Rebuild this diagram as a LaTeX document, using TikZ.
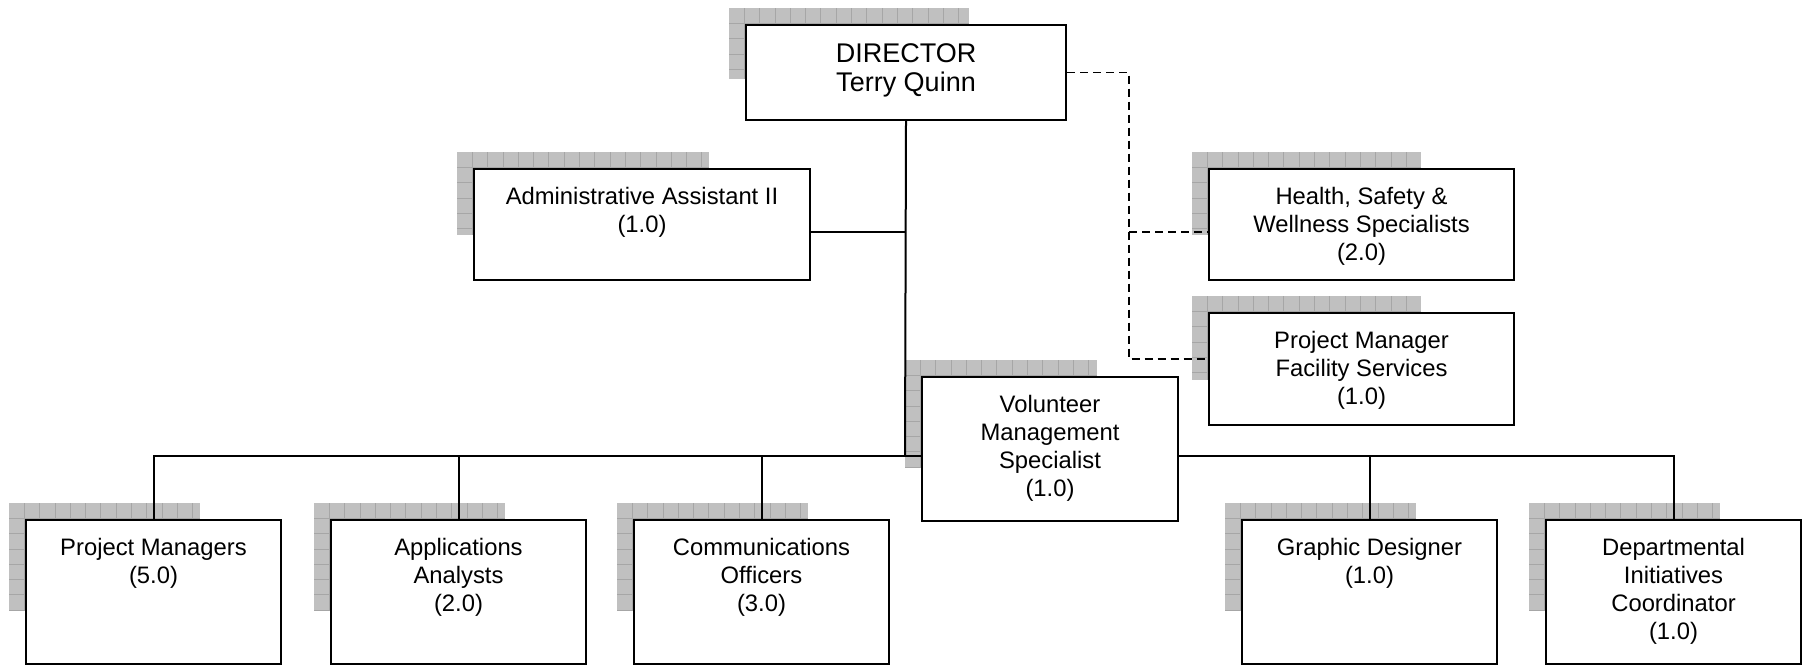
\documentclass[tikz,border=0pt]{standalone}
\usepackage{fontspec}
\setmainfont{Liberation Sans}

% drawing layers: grid shadows at the back, reporting lines above them, boxes on top
\pgfdeclarelayer{shadow}
\pgfdeclarelayer{links}
\pgfsetlayers{shadow,links,main}

\definecolor{shadowfill}{RGB}{192,192,192}
\definecolor{gridrule}{RGB}{166,166,166}

% grey tiled shadow: top-left corner (#1,#2), size #3 x #4
\newcommand\gridshadow[4]{%
  \fill[shadowfill] ({#1},{#2}) rectangle ++({#3},{#4});
  \begin{scope}
    \clip ({#1},{#2}) rectangle ++({#3},{#4});
    \foreach \k in {1,...,17}{
      \draw[gridrule, line width=0.8pt] ({#1+\k*15.3},{#2}) -- ++(0,{#4});
    }
    \foreach \k in {1,...,8}{
      \draw[gridrule, line width=0.8pt] ({#1},{#2+\k*15.3}) -- ++({#3},0);
    }
  \end{scope}}

% org-chart unit: name, left, top, width, height, text [, text options]
\newcommand\orgunit[7][]{%
  \node[unitbox, minimum width=#5pt, minimum height=#6pt,
        label={[unittext,#1]north:{#7}}] (#2) at (#3,#4) {};
  \begin{pgfonlayer}{shadow}
    \gridshadow{#3-16}{#4-16}{0.75*#5}{0.75*#6}
  \end{pgfonlayer}}

\begin{document}
\begin{tikzpicture}[x=1pt,y=-1pt,
  unitbox/.style={draw, line width=2pt, fill=white, inner sep=0pt, anchor=north west},
  unittext/.style={anchor=north, yshift=-19pt, align=center, inner sep=0pt,
                   font=\fontsize{23.8}{28}\selectfont},
  solidlink/.style={line width=2pt},
  reportlink/.style={line width=1.6pt, dash pattern=on 8pt off 5pt}]
\useasboundingbox (0,0) rectangle (1803,664);

% units
\orgunit[font=\fontsize{27}{29}\selectfont]{dir}{745}{24}{320}{95}{DIRECTOR\\Terry Quinn}
\orgunit{admin}{473}{168}{336}{111}{Administrative Assistant II\\(1.0)}
\orgunit{hs}{1208}{168}{305}{111}{Health, Safety \&\\Wellness Specialists\\(2.0)}
\orgunit{pmf}{1208}{312}{305}{112}{Project Manager\\Facility Services\\(1.0)}
\orgunit{vms}{921}{376}{256}{144}{Volunteer\\Management\\Specialist\\(1.0)}
\orgunit{pm}{25}{519}{255}{144}{Project Managers\\(5.0)}
\orgunit{aa}{330}{519}{255}{144}{Applications\\Analysts\\(2.0)}
\orgunit{co}{633}{519}{255}{144}{Communications\\Officers\\(3.0)}
\orgunit{gd}{1241}{519}{255}{144}{Graphic Designer\\(1.0)}
\orgunit{dic}{1545}{519}{255}{144}{Departmental\\Initiatives\\Coordinator\\(1.0)}

% junction points of the connectors
\coordinate (bus) at (905,456);
\coordinate (adminjoin) at (905,232);
\coordinate (hsjoin) at (1129,232);
\coordinate (fsjoin) at (1129,359);

\begin{pgfonlayer}{links}
  % direct reports
  \draw[solidlink] (dir.south) -- (bus);
  \draw[solidlink] (admin.east |- adminjoin) -- (adminjoin);
  \draw[solidlink] (pm.north) |- (bus) -| (dic.north);
  \draw[solidlink] (aa.north) -- (aa.north |- bus);
  \draw[solidlink] (co.north) -- (co.north |- bus);
  \draw[solidlink] (gd.north) -- (gd.north |- bus);
  % dotted-line reports
  \draw[reportlink] (dir.east) -| (fsjoin) -- (pmf.west |- fsjoin);
  \draw[reportlink] (hsjoin) -- (hs.west |- hsjoin);
\end{pgfonlayer}
\end{tikzpicture}
\end{document}
